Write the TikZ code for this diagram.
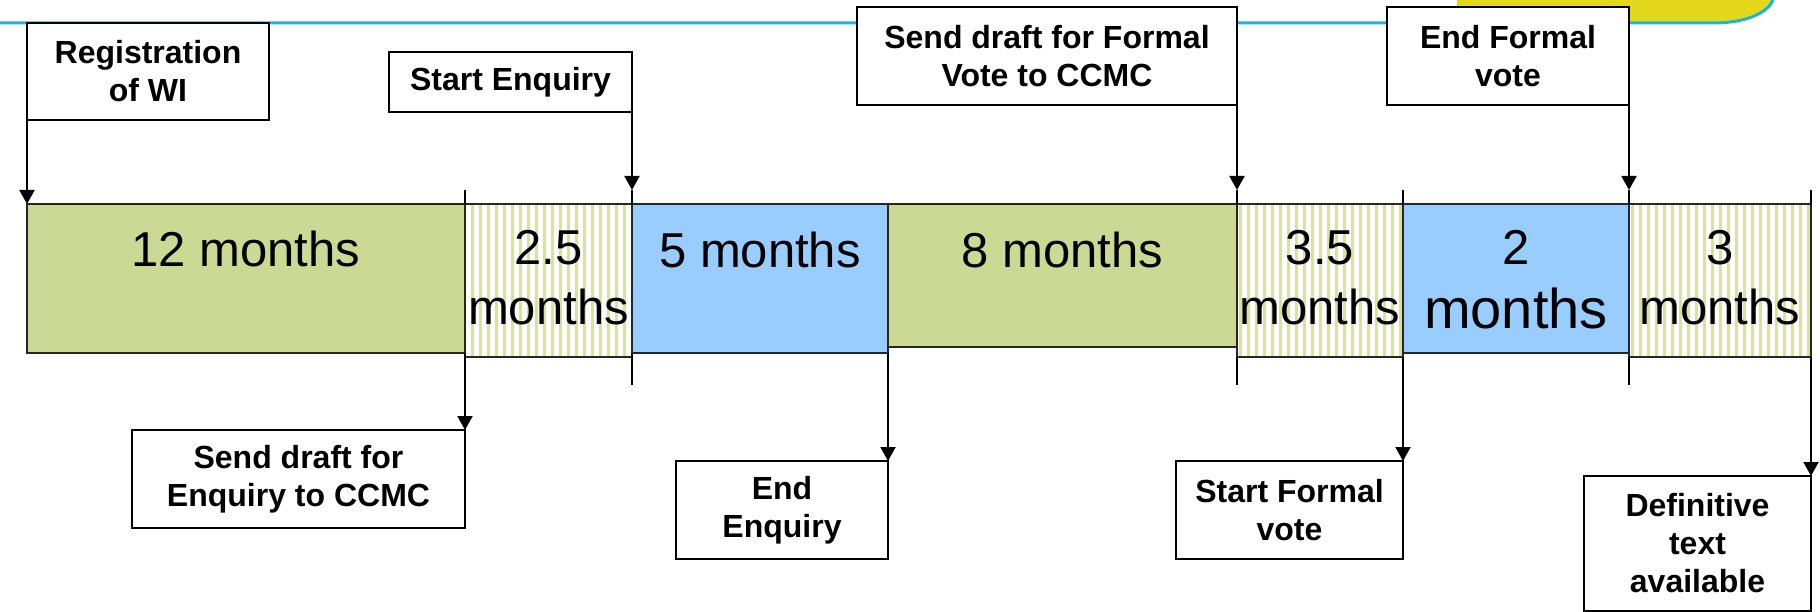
\documentclass[tikz,border=0pt]{standalone}
\usepackage{fontspec}
\setmainfont{Liberation Sans}
\usetikzlibrary{arrows.meta, patterns.meta}

\definecolor{grn}{RGB}{204,217,149}
\definecolor{lblue}{RGB}{153,204,255}
\definecolor{stripe}{RGB}{214,226,162}
\definecolor{rule}{RGB}{30,178,228}
\definecolor{yel}{RGB}{228,216,28}

\begin{document}
\begin{tikzpicture}[x=1pt, y=-1pt, >={Triangle[length=14pt,width=15pt]}, line width=2pt,
    seg/.style={draw=black!85, line width=2pt, inner sep=0pt, outer sep=0pt, anchor=north west},
    hatch/.style={seg, pattern={Lines[angle=90,distance=8pt,line width=3pt]}, pattern color=stripe},
    mtext/.style={font=\fontsize{49}{60}\selectfont, align=center},
    lbl/.style={draw, line width=2.5pt, fill=white, inner sep=0pt, outer sep=0pt, align=center,
        font=\fontsize{32}{38}\selectfont\bfseries}]
    \useasboundingbox (0,0) rectangle (1820,612);

    % Header
    \fill[yel] (1457,0) -- (1457,23) -- (1713,23) .. controls (1748,23) and (1768,12) .. (1773,0) -- cycle;
    \draw[rule, line width=3pt] (0,23) -- (1713,23) .. controls (1748,23) and (1768,12) .. (1773,0);

    % Bar
    \node[seg, fill=grn, minimum width=438pt, minimum height=149pt] (m12) at (27,204) {};
    \node[hatch, minimum width=167pt, minimum height=153pt] (m2a) at (m12.north east) {};
    \node[seg, fill=lblue, minimum width=256pt, minimum height=149pt] (m5) at (m2a.north east) {};
    \node[seg, fill=grn, minimum width=349pt, minimum height=143pt] (m8) at (m5.north east) {};
    \node[hatch, minimum width=166pt, minimum height=153pt] (m3a) at (m8.north east) {};
    \node[seg, fill=lblue, minimum width=226pt, minimum height=149pt] (m2) at (m3a.north east) {};
    \node[hatch, minimum width=182pt, minimum height=153pt] (m3) at (m2.north east) {};

    \node[mtext] at (246,249) {12 months};
    \node[mtext] at (548.5,278) {2.5\\months};
    \node[mtext] at (760,250) {5 months};
    \node[mtext] at (1062.5,250) {8 months};
    \node[mtext] at (1320,278) {3.5\\months};
    \node[mtext] at (1516,280) {2\\[4pt]{\fontsize{56}{60}\selectfont months}};
    \node[mtext] at (1720,278) {3\\months};

    % Milestones
    \node[lbl, minimum width=242pt, minimum height=97pt] (reg) at (148,71.5) {Registration\\of WI};
    \node[lbl, minimum width=243pt, minimum height=60pt] (startenq) at (510.5,82) {Start Enquiry};
    \node[lbl, minimum width=380pt, minimum height=98pt] (sendfv) at (1047,56) {Send draft for Formal\\Vote to CCMC};
    \node[lbl, minimum width=242pt, minimum height=98pt] (endfv) at (1508,56) {End Formal\\vote};

    \node[lbl, minimum width=333pt, minimum height=98pt] (sendenq) at (298.5,479) {Send draft for\\Enquiry to CCMC};
    \node[lbl, minimum width=212pt, minimum height=98pt] (endenq) at (782,510) {End\\Enquiry};
    \node[lbl, minimum width=227pt, minimum height=98pt] (startfv) at (1289.5,510) {Start Formal\\vote};
    \node[lbl, minimum width=227pt, minimum height=135pt] (deftext) at (1697.5,543.5) {Definitive\\text\\available};

    % Tick ends
    \coordinate (u1) at (465,190);
    \coordinate (u2) at (632,190);
    \coordinate (u4) at (1237,190);
    \coordinate (u5) at (1403,190);
    \coordinate (u6) at (1629,190);
    \coordinate (u7) at (1811,190);
    \coordinate (d2) at (632,385);
    \coordinate (d4) at (1237,385);
    \coordinate (d6) at (1629,385);

    % Ticks
    \draw (u1) -- (m12.north east);
    \draw (u2) -- (m5.north west);
    \draw (u4) -- (m3a.north west);
    \draw (u5) -- (m2.north west);
    \draw (u6) -- (m3.north west);
    \draw (u7) -- (m3.north east);
    \draw (m5.south west) -- (d2);
    \draw (m3a.south west) -- (d4);
    \draw (m3.south west) -- (d6);

    % Arrows
    \draw[->] (reg.south west) -- (m12.north west);
    \draw[->] (startenq.south east) -- (u2);
    \draw[->] (sendfv.south east) -- (u4);
    \draw[->] (endfv.south east) -- (u6);
    \draw[->] (m12.south east) -- (sendenq.north east);
    \draw[->] (m5.south east) -- (endenq.north east);
    \draw[->] (m3a.south east) -- (startfv.north east);
    \draw[->] (m3.south east) -- (deftext.north east);
\end{tikzpicture}
\end{document}
